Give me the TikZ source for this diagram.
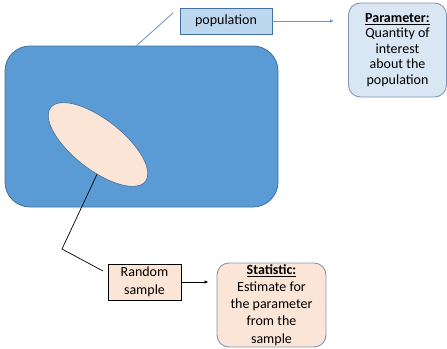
\documentclass[tikz,border=0pt]{standalone}
\usepackage{fontspec}
\setmainfont{Carlito}
\usetikzlibrary{shapes.geometric,arrows.meta}
\definecolor{popblue}{HTML}{5B9BD5}
\definecolor{popedge}{HTML}{41719C}
\definecolor{peach}{HTML}{FBE5D6}
\definecolor{lightblue}{HTML}{BDD7EE}
\definecolor{paleblue}{HTML}{D9E6F3}
\definecolor{grayedge}{HTML}{8497B0}
\tikzset{
  txt/.style={font=\fontsize{14}{16}\selectfont, align=center, inner sep=0pt},
  smallbox/.style={txt, draw, rectangle},
  roundbox/.style={txt, draw=grayedge, line width=0.9pt, rectangle, rounded corners=12pt},
  tip/.style={-{Latex[length=4pt,width=3.5pt]}}
}
\begin{document}
\begin{tikzpicture}[x=1pt,y=-1pt]
\useasboundingbox (0,0) rectangle (447,348);
% population rectangle
\node[draw=popedge, fill=popblue, line width=0.8pt, rounded corners=25pt,
      minimum width=273pt, minimum height=161pt, inner sep=0pt] (big) at (141.5,126.5) {};
% sample ellipse
\node[ellipse, draw=popedge, fill=peach, line width=0.6pt, minimum width=120pt,
      minimum height=50pt, inner sep=0pt, rotate=-38] (ell) at (98,144.5) {};
% population label
\node[smallbox, draw=popedge, fill=lightblue, minimum width=92pt, minimum height=26pt] (pop) at (226,21) {population};
% parameter box
\node[roundbox, fill=paleblue, minimum width=98pt, minimum height=94pt,
      font=\fontsize{14}{15.5}\selectfont] (param) at (397.5,50)
  {\underline{\textbf{Parameter:}}\\Quantity of\\interest\\about the\\population};
% random sample box
\node[smallbox, draw=black, fill=peach, line width=0.7pt, minimum width=73pt, minimum height=36pt,
      font=\fontsize{14}{18}\selectfont] (rs) at (144.5,282) {Random\\sample};
% statistic box
\node[roundbox, fill=peach, minimum width=109pt, minimum height=84pt,
      font=\fontsize{14}{17.2}\selectfont] (stat) at (271.5,305)
  {\underline{\textbf{Statistic:}}\\Estimate for\\the parameter\\from the\\sample};
% connectors
\coordinate (popend) at (173,13);
\draw[popblue!80!gray, line width=0.8pt] ([xshift=132pt]big.north west) -- (popend);
\draw[popblue, line width=0.8pt, tip] (pop.east) -- ([xshift=-14pt]param.west |- pop.east);
\coordinate (bend) at (62,249);
\coordinate (rsend) at (103,271);
\draw[black, line width=0.7pt] (ell.306) -- (bend) -- (rsend);
\draw[black, line width=0.7pt, tip] (rs.east) -- ([xshift=-8pt]stat.west |- rs.east);
\end{tikzpicture}
\end{document}
